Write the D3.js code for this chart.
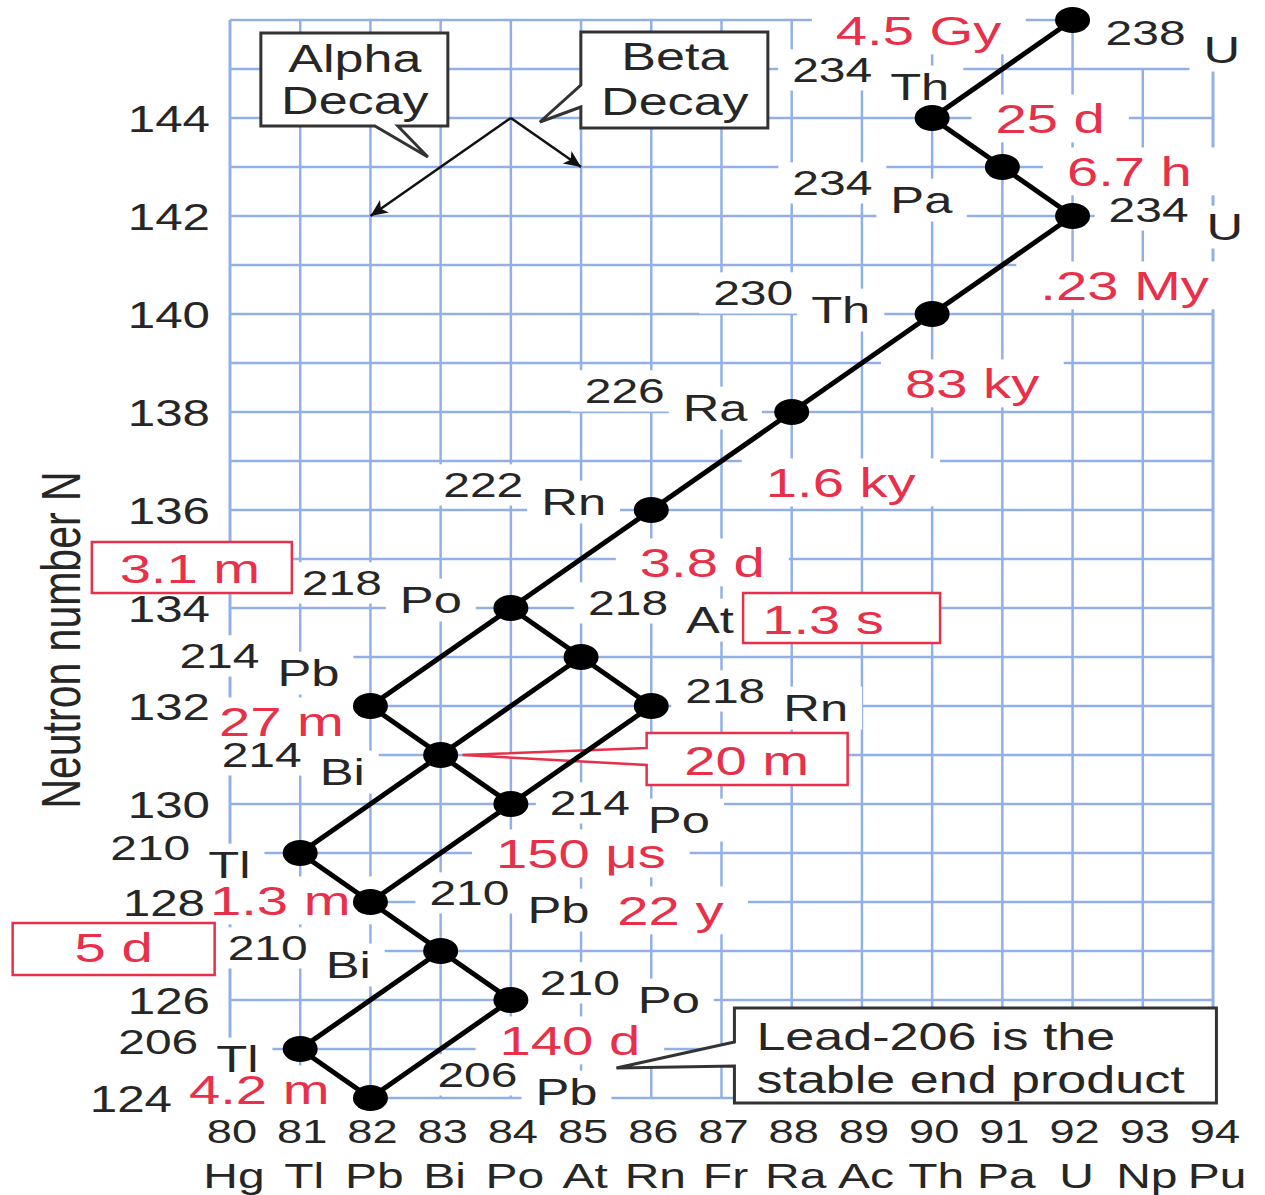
<!DOCTYPE html>
<html><head><meta charset="utf-8">
<script src="https://cdn.jsdelivr.net/npm/d3@7"></script>
<style>html,body{margin:0;padding:0;background:#fff;} svg{display:block;}</style>
</head><body>
<svg id="chart" width="1265" height="1195"></svg>
<script>
// ---------------- data ----------------
const symbols        = ["U","Th","Pa","U","Th","Ra","Rn","Po","At","Rn","Pb","Bi","Po","Tl","Pb","Bi","Po","Tl","Pb"];
const massNumbers    = [238,234,234,234,230,226,222,218,218,218,214,214,214,210,210,210,210,206,206];
const protonNumbers  = [92,90,91,92,90,88,86,84,85,86,82,83,84,81,82,83,84,81,82];
const neutronNumbers = [146,144,143,142,140,138,136,134,133,132,132,131,130,129,128,127,126,125,124];
const halfLives      = ["4.5 Gy","25 d","6.7 h",".23 My","83 ky","1.6 ky","3.8 d","3.1 m","1.3 s","","27 m","20 m","150 μs","1.3 m","22 y","5 d","140 d","4.2 m",""];
const decayFrom      = [0,1,2,3,4,5,6,7,7,8,8,10,11,11,9,12,13,14,15,15,16,17];
const decayTo        = [1,2,3,4,5,6,7,10,8,9,11,11,12,13,12,14,14,15,16,17,18,18];
const zTicks         = [80,81,82,83,84,85,86,87,88,89,90,91,92,93,94];
const elementNames   = ["Hg","Tl","Pb","Bi","Po","At","Rn","Fr","Ra","Ac","Th","Pa","U","Np","Pu"];
const nTicks         = [124,126,128,130,132,134,136,138,140,142,144];
const axisTitle      = "Neutron number N";
const alphaLegend    = ["Alpha","Decay"];
const betaLegend     = ["Beta","Decay"];
const endNote        = ["Lead-206 is the","stable end product"];
const legendOrigin   = [84,144];   // Z, N of the legend arrows
const alphaStep      = [-2,-2];    // alpha decay: Z-2, N-2
const betaStep       = [1,-1];     // beta decay: Z+1, N-1

// ---------------- layout ----------------
const SX = 1.37;               // horizontal stretch of the original picture
const FONT = "'Liberation Sans', Arial, Helvetica, sans-serif";
const RED = "#e8304a", INK = "#262626", GRID = "#92b0e8";
const svg = d3.select("#chart");
const x = d3.scaleLinear().domain([80,94]).range([230,1213]);
const y = d3.scaleLinear().domain([124,146]).range([1098,20]);

const gridL = svg.append("g"), knockL = svg.append("g"), boxL = svg.append("g"),
      lineL = svg.append("g"), dotL = svg.append("g"), textL = svg.append("g");

function addText(str, px, py, o) {
  o = Object.assign({size:35, fill:INK, anchor:"start", knock:true, padX:14, padY:1}, o||{});
  const tr = `translate(${px},${py}) scale(${SX},1)`;
  const g = textL.append("g").attr("transform", tr);
  const t = g.append("text").attr("font-family", FONT).attr("font-size", o.size)
    .attr("fill", o.fill).attr("text-anchor", o.anchor).text(str);
  if (o.knock) {
    const b = t.node().getBBox();
    knockL.append("g").attr("transform", tr).append("rect")
      .attr("x", b.x - o.padX/SX).attr("y", b.y - o.padY)
      .attr("width", b.width + 2*o.padX/SX).attr("height", b.height + 2*o.padY)
      .attr("fill", "#fff");
  }
  return t;
}

// grid
d3.range(124,147).forEach(n => {
  gridL.append("line").attr("x1", x(80)).attr("x2", x(n===146 ? 92 : 94))
    .attr("y1", y(n)).attr("y2", y(n)).attr("stroke", GRID).attr("stroke-width", 2.5);
});
zTicks.forEach(z => {
  gridL.append("line").attr("x1", x(z)).attr("x2", x(z))
    .attr("y1", y(124)).attr("y2", y(z>92 ? 145 : 146)).attr("stroke", GRID).attr("stroke-width", z===80||z===94?3:2.5);
});

// axis tick labels
nTicks.forEach(n => {
  const right = n===124 ? 172 : (n===128 ? 205 : 210);
  addText(String(n), right, y(n)+14, {size:36, anchor:"end", knock:false});
});
zTicks.forEach((z,i) => {
  addText(String(z), x(z)+2, 1143, {size:33, anchor:"middle", knock:false});
  addText(elementNames[i], x(z)+4, 1188, {size:35, anchor:"middle", knock:false});
});
textL.append("text").attr("transform", `translate(80,640) scale(${SX},1) rotate(-90)`)
  .attr("font-family", FONT).attr("font-size", 41).attr("fill", INK)
  .attr("text-anchor", "middle").text(axisTitle);

// nuclide labels (mass number upper-left, symbol lower-right)
const massOff = [[33,25],[-140,-36],[-210,28],[36,6],[-219,-9],[-207,-9],[-208,-13],[-209,-13],[7,-42],[34,-3],
                 [-191,-38],[-219,12],[39,11],[-190,7],[59,3],[-213,9],[29,-5],[-182,5],[67,-11]];
symbols.forEach((s,i) => {
  const cx = x(protonNumbers[i]), cy = y(neutronNumbers[i]);
  const [dx,dy] = massOff[i];
  addText(String(massNumbers[i]), cx+dx, cy+dy, {size:35});
  addText(s, cx+dx+98, cy+dy+18, {size:37});
});

// half-life labels
const halfOff = [[-154,25],[118,15],[127,19],[52,84],[40,84],[49,85],[51,67],[-321,-25],[242,-23],null,
                 [-89,30],[306,20],[70,64],[-20,62],[300,23],[-327,11],[59,55],[-41,55],null];
const boxes = {7:[-98,102,-41,10], 8:[-80,117,-41,9], 11:[-100,101,-42,10], 15:[-101,101,-39,13]};
halfLives.forEach((h,i) => {
  if (!h) return;
  const cx = x(protonNumbers[i]), cy = y(neutronNumbers[i]);
  const tx = cx + halfOff[i][0], ty = cy + halfOff[i][1];
  const b = boxes[i];
  addText(h, tx, ty, {size:41, fill:RED, anchor:"middle", knock:!b, padX:24});
  if (b) {
    const x0 = tx+b[0], x1 = tx+b[1], y0 = ty+b[2], y1 = ty+b[3];
    let d;
    if (i === 11) { // pointer to the nuclide
      d = `M${x0},${y0}H${x1}V${y1}H${x0}V${y0+32}L${cx+22},${cy}L${x0},${y0+15}Z`;
    } else {
      d = `M${x0},${y0}H${x1}V${y1}H${x0}Z`;
    }
    boxL.append("path").attr("d", d).attr("fill", "#fff").attr("stroke", RED).attr("stroke-width", 2.5);
  }
});

// legend callouts
const ox = x(legendOrigin[0]), oy = y(legendOrigin[1]);
boxL.append("path").attr("d",
  `M${ox-250},${oy-85}H${ox-63}V${oy+8}H${ox-113}L${ox-83},${oy+39}L${ox-136},${oy+8}H${ox-250}Z`)
  .attr("fill","#fff").attr("stroke","#333").attr("stroke-width",3);
boxL.append("path").attr("d",
  `M${ox+70},${oy-86}H${ox+257}V${oy+10}H${ox+70}V${oy-11}L${ox+29},${oy+4}L${ox+70},${oy-33}Z`)
  .attr("fill","#fff").attr("stroke","#333").attr("stroke-width",3);
alphaLegend.forEach((s,k) => addText(s, ox-156, oy-46+k*42, {size:38, anchor:"middle", knock:false}));
betaLegend.forEach((s,k) => addText(s, ox+164, oy-48+k*45, {size:38, anchor:"middle", knock:false}));

const defs = svg.append("defs");
defs.append("marker").attr("id","ah").attr("viewBox","0 0 10 10").attr("refX",10).attr("refY",5)
  .attr("markerWidth",28).attr("markerHeight",17).attr("markerUnits","userSpaceOnUse").attr("orient","auto")
  .append("path").attr("d","M0,0.5L10,5L0,9.5L2.5,5Z").attr("fill","#111");
[alphaStep, betaStep].forEach(st => {
  lineL.append("line").attr("x1",ox).attr("y1",oy)
    .attr("x2", x(legendOrigin[0]+st[0])).attr("y2", y(legendOrigin[1]+st[1]))
    .attr("stroke","#111").attr("stroke-width",2.5).attr("marker-end","url(#ah)");
});

// end note callout anchored to Pb-206
const ex = x(protonNumbers[18]), ey = y(neutronNumbers[18]);
boxL.append("path").attr("d",
  `M${ex+364},${ey-90}H${ex+846}V${ey+5}H${ex+364}V${ey-32}L${ex+246},${ey-30}L${ex+364},${ey-56}Z`)
  .attr("fill","#fff").attr("stroke","#333").attr("stroke-width",3);
endNote.forEach((s,k) => addText(s, ex+386, ey-48+k*43, {size:38, knock:false}));

// decay lines and nuclides
decayFrom.forEach((f,k) => {
  const t = decayTo[k];
  lineL.append("line")
    .attr("x1", x(protonNumbers[f])).attr("y1", y(neutronNumbers[f]))
    .attr("x2", x(protonNumbers[t])).attr("y2", y(neutronNumbers[t]))
    .attr("stroke", "#000").attr("stroke-width", 5);
});
dotL.selectAll("ellipse").data(symbols).join("ellipse")
  .attr("cx", (d,i) => x(protonNumbers[i])).attr("cy", (d,i) => y(neutronNumbers[i]))
  .attr("rx", 17.5).attr("ry", 13).attr("fill", "#000");
</script>
</body></html>
